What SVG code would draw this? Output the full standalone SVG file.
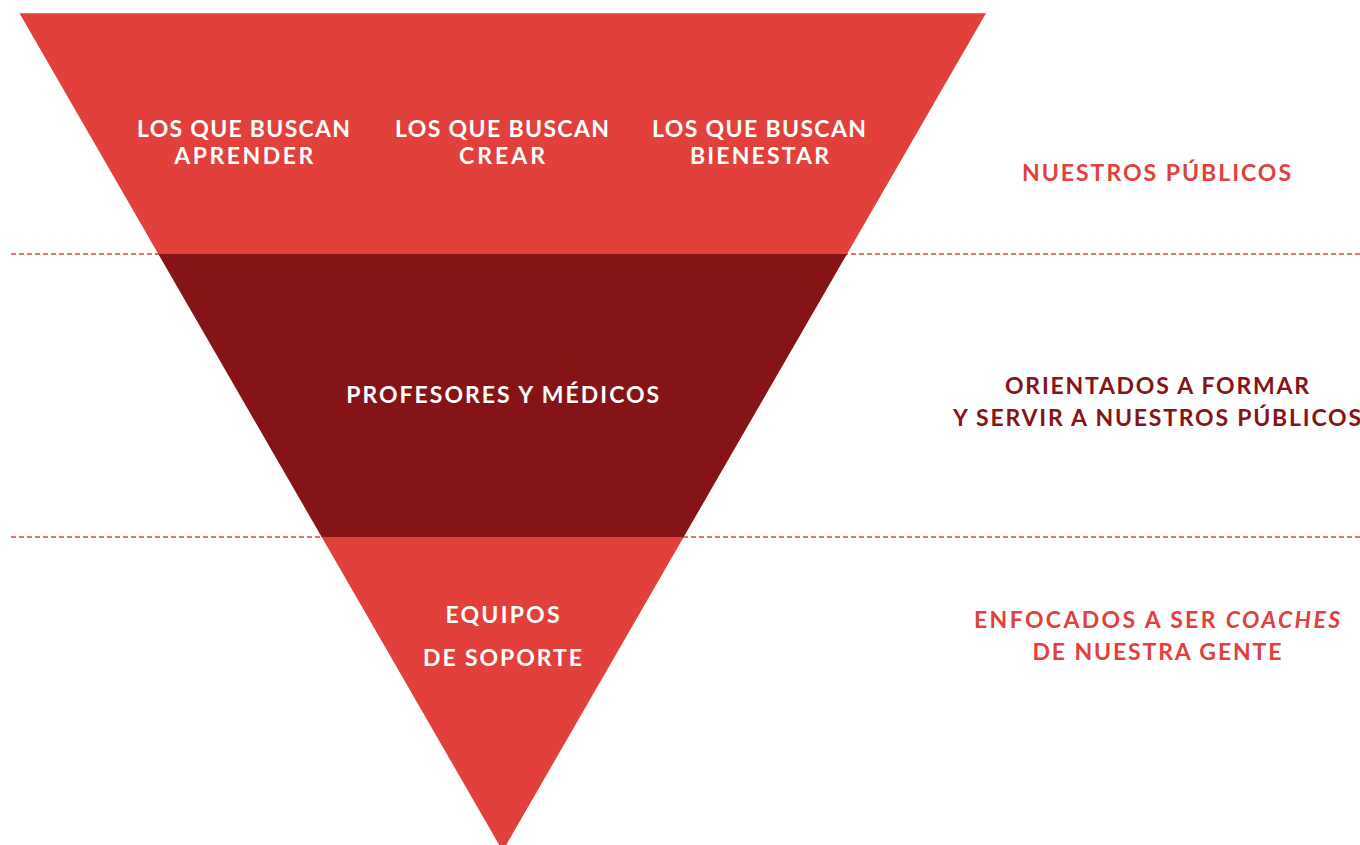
<svg xmlns="http://www.w3.org/2000/svg" width="1360" height="845" viewBox="0 0 1360 845">
<style>
  .lite { fill: #E1403B; }
  .dark { fill: #861315; }
  .dash { stroke: #E1403B; stroke-width: 1.3; stroke-dasharray: 5 3; fill: none; }
  text { font-family: Lato, "Open Sans", "Liberation Sans", sans-serif; font-weight: 700; font-size: 23px; text-anchor: middle; }
  .w { fill: #FFFFFF; }
  .tl { fill: #E1403B; }
  .td { fill: #861315; }
</style>
<rect width="1360" height="845" fill="#FFFFFF"/>
<g id="connectors">
  <line class="dash" x1="11" y1="254" x2="1360" y2="254"/>
  <line class="dash" x1="11" y1="537" x2="1360" y2="537"/>
</g>
<g id="tier-publicos">
  <polygon class="lite" points="19.5,13.3 986,13.3 847,254 158.3,254"/>
  <text class="w" x="243.5" y="137" textLength="213" lengthAdjust="spacing">LOS QUE BUSCAN</text>
  <text class="w" x="243.8" y="164" textLength="139" lengthAdjust="spacing">APRENDER</text>
  <text class="w" x="502" y="137" textLength="214" lengthAdjust="spacing">LOS QUE BUSCAN</text>
  <text class="w" x="502" y="164" textLength="86" lengthAdjust="spacing">CREAR</text>
  <text class="w" x="759" y="137" textLength="214" lengthAdjust="spacing">LOS QUE BUSCAN</text>
  <text class="w" x="759.5" y="164" textLength="139" lengthAdjust="spacing">BIENESTAR</text>
</g>
<g id="tier-profesores">
  <polygon class="dark" points="158.3,254 847,254 683.7,537 321.7,537"/>
  <text class="w" x="502.7" y="403.3" textLength="313" lengthAdjust="spacing">PROFESORES Y MÉDICOS</text>
</g>
<g id="tier-soporte">
  <polygon class="lite" points="321.7,537 683.7,537 502.7,851"/>
  <text class="w" x="502.5" y="622.7" textLength="114" lengthAdjust="spacing">EQUIPOS</text>
  <text class="w" x="502.5" y="665.7" textLength="159" lengthAdjust="spacing">DE SOPORTE</text>
</g>
<g id="label-publicos">
  <text class="tl" x="1156.5" y="181" textLength="269" lengthAdjust="spacing">NUESTROS PÚBLICOS</text>
</g>
<g id="label-orientados">
  <text class="td" x="1157" y="394" textLength="304" lengthAdjust="spacing">ORIENTADOS A FORMAR</text>
  <text class="td" x="1157" y="425.7" textLength="408" lengthAdjust="spacing">Y SERVIR A NUESTROS PÚBLICOS</text>
</g>
<g id="label-enfocados">
  <text class="tl" x="1157" y="628.3" textLength="366" lengthAdjust="spacing">ENFOCADOS A SER <tspan font-style="italic">COACHES</tspan></text>
  <text class="tl" x="1157" y="660" textLength="249" lengthAdjust="spacing">DE NUESTRA GENTE</text>
</g>
</svg>
